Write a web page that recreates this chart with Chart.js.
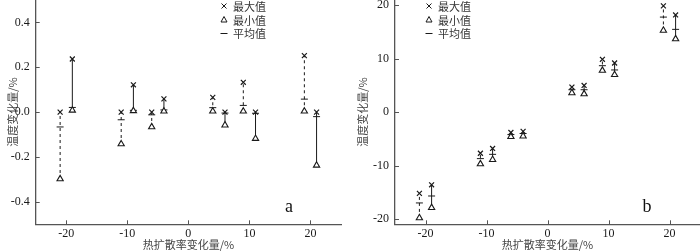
<!DOCTYPE html>
<html>
<head>
<meta charset="utf-8">
<script src="https://cdn.jsdelivr.net/npm/chart.js@4/dist/chart.umd.min.js"></script>
<style>
  body { margin: 0; background: #fff; }
  .row { display: flex; width: 700px; height: 252px; }
  canvas { display: block; }
</style>
</head>
<body>
<div class="row">
  <canvas id="chartA" width="350" height="252"></canvas>
  <canvas id="chartB" width="350" height="252"></canvas>
</div>
<script>
// thermal diffusivity change (%) for each group, first of each pair dashed
const diffusivity = [-21, -19, -11, -9, -6, -4, 4, 6, 9, 11, 19, 21];
const dashed = [true, false, true, false, true, false, true, false, true, false, true, false];

// panel a
const maxA = [0.0, 0.237, 0.0, 0.122, 0.0, 0.059, 0.066, 0.0, 0.133, 0.0, 0.252, 0.0];
const meanA = [-0.066, 0.021, -0.034, 0.008, -0.012, 0.01, 0.02, -0.004, 0.03, -0.005, 0.058, -0.02];
const minA = [-0.298, 0.008, -0.142, 0.006, -0.066, 0.004, 0.004, -0.058, 0.004, -0.118, 0.004, -0.237];

// panel b
const maxB = [-15.2, -13.6, -7.7, -6.8, -3.8, -3.6, 4.7, 5.0, 9.9, 9.2, 19.9, 18.2];
const meanB = [-17.0, -15.7, -8.7, -7.9, -4.2, -4.0, 4.2, 4.2, 8.7, 7.9, 17.8, 15.5];
const minB = [-19.8, -17.9, -9.7, -8.9, -4.6, -4.5, 3.6, 3.4, 7.8, 7.0, 15.3, 13.7];

const legendNames = ['最大值', '最小值', '平均值'];
const xTitle = '热扩散率变化量/%';
const yTitle = '温度变化量/%';

const ink = '#1a1a1a';
const axisColor = '#555';
const tickFont = { family: 'Liberation Serif', size: 12 };
const cjkFont = { family: 'Noto Sans CJK SC', size: 11 };

const decor = {
  id: 'decor',
  afterDraw(chart, args, opts) {
    const { ctx, scales: { x, y }, chartArea } = chart;
    ctx.save();
    ctx.strokeStyle = axisColor;
    ctx.lineWidth = 1;
    // inward tick marks
    x.ticks.forEach(t => {
      if (t.value <= x.min || t.value >= x.max) return;
      const px = Math.round(x.getPixelForValue(t.value)) + 0.5;
      const len = t.label !== null ? 4 : 2;
      ctx.beginPath();
      ctx.moveTo(px, chartArea.bottom);
      ctx.lineTo(px, chartArea.bottom - len);
      ctx.stroke();
    });
    y.ticks.forEach(t => {
      if (t.value <= y.min || t.value >= y.max) return;
      const py = Math.round(y.getPixelForValue(t.value)) + 0.5;
      const len = t.label !== null ? 4 : 2;
      ctx.beginPath();
      ctx.moveTo(chartArea.left, py);
      ctx.lineTo(chartArea.left + len, py);
      ctx.stroke();
    });

    // legend
    ctx.strokeStyle = ink;
    ctx.fillStyle = '#333';
    ctx.font = '11px "Noto Sans CJK SC"';
    ctx.textBaseline = 'middle';
    const lx = opts.legendX, rows = [6, 19.5, 33];
    rows.forEach((ly, i) => {
      ctx.beginPath();
      if (i === 0) {
        ctx.moveTo(lx - 2.5, ly - 2.5); ctx.lineTo(lx + 2.5, ly + 2.5);
        ctx.moveTo(lx + 2.5, ly - 2.5); ctx.lineTo(lx - 2.5, ly + 2.5);
      } else if (i === 1) {
        ctx.moveTo(lx, ly - 3); ctx.lineTo(lx + 3, ly + 2.5); ctx.lineTo(lx - 3, ly + 2.5); ctx.closePath();
      } else {
        ctx.moveTo(lx - 3.5, ly + 0.5); ctx.lineTo(lx + 3.5, ly + 0.5);
      }
      ctx.stroke();
      ctx.fillText(legendNames[i], lx + 9, ly + 1);
    });

    // panel letter
    ctx.fillStyle = '#111';
    ctx.font = '18px "Liberation Serif"';
    ctx.textAlign = 'center';
    ctx.fillText(opts.letter, opts.letterX, 207);
    ctx.restore();
  }
};

function makePanel(id, maxV, meanV, minV, p) {
  const datasets = [];
  diffusivity.forEach((xv, i) => {
    datasets.push({
      type: 'scatter',
      showLine: true,
      data: [{ x: xv, y: minV[i] }, { x: xv, y: maxV[i] }],
      borderColor: ink,
      borderWidth: 1,
      borderDash: dashed[i] ? [3, 3] : [],
      pointRadius: 0,
      order: 5
    });
  });
  const pts = arr => diffusivity.map((xv, i) => ({ x: xv, y: arr[i] }));
  datasets.push({ data: pts(meanV), pointStyle: 'line', pointRadius: 3.5, borderColor: ink, borderWidth: 1, order: 2 });
  datasets.push({ data: pts(maxV), pointStyle: 'crossRot', pointRadius: 3.5, borderColor: ink, borderWidth: 1.2, order: 1 });
  datasets.push({ data: pts(minV), pointStyle: 'triangle', pointRadius: 3.6, borderColor: ink, backgroundColor: '#fff', borderWidth: 1.1, order: 1 });

  return new Chart(document.getElementById(id), {
    type: 'scatter',
    data: { datasets },
    options: {
      responsive: false,
      animation: false,
      events: [],
      layout: { autoPadding: false, padding: { top: 0, left: 0, bottom: 0, right: p.padRight } },
      plugins: { legend: { display: false }, tooltip: { enabled: false }, decor: p.decor },
      scales: {
        x: {
          type: 'linear', min: -25, max: 25,
          grid: { display: false, drawTicks: false },
          border: { display: true, color: axisColor, width: 1.3 },
          ticks: {
            stepSize: 5, autoSkip: false, maxRotation: 0, padding: 2, includeBounds: false,
            font: tickFont, color: ink,
            callback: v => (v % 10 === 0 && Math.abs(v) < 25) ? String(v) : null
          },
          title: { display: true, text: xTitle, font: cjkFont, color: '#444', padding: { top: 0, bottom: 0.5 } },
          afterFit: s => { s.height = 27.7; s.paddingLeft = 0; s.paddingRight = 0; }
        },
        y: {
          type: 'linear', min: p.yMin, max: p.yMax,
          grid: { display: false, drawTicks: false },
          border: { display: true, color: axisColor, width: 1.3 },
          ticks: {
            stepSize: p.yStep, autoSkip: false, padding: 6, includeBounds: false,
            font: tickFont, color: ink,
            callback: p.yLabel
          },
          title: { display: true, text: yTitle, font: cjkFont, color: '#444', padding: { top: 6.4, bottom: 0 } },
          afterFit: s => { s.width = p.yWidth; s.paddingTop = 0; s.paddingBottom = 0; }
        }
      }
    },
    plugins: [decor]
  });
}

makePanel('chartA', maxA, meanA, minA, {
  yMin: -0.5, yMax: 0.5, yStep: 0.1, yWidth: 35.7, padRight: 9,
  yLabel: v => {
    const k = Math.round(v * 10);
    return (k % 2 === 0 && Math.abs(k) < 5) ? (k / 10).toFixed(1) : null;
  },
  decor: { legendX: 224, letter: 'a', letterX: 289 }
});

makePanel('chartB', maxB, meanB, minB, {
  yMin: -21, yMax: 21, yStep: 5, yWidth: 45, padRight: 0,
  yLabel: v => (v % 10 === 0 && Math.abs(v) <= 20) ? String(v) : null,
  decor: { legendX: 79, letter: 'b', letterX: 297 }
});
</script>
</body>
</html>
